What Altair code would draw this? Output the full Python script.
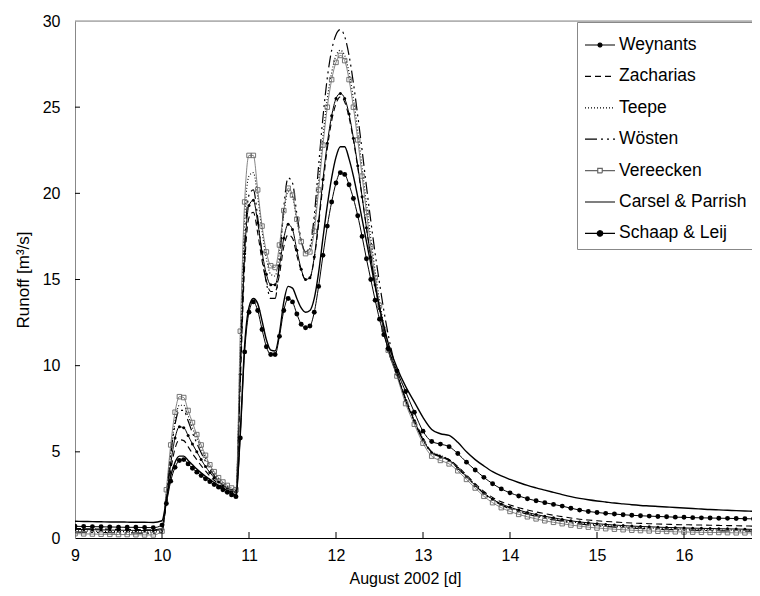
import altair as alt
import pandas as pd

# ---- data ----
T = [9.0, 9.1, 9.2, 9.3, 9.4, 9.5, 9.6, 9.7, 9.8, 9.9,
     10.0, 10.05, 10.1, 10.15, 10.2, 10.25, 10.3, 10.35, 10.4, 10.45,
     10.5, 10.55, 10.6, 10.65, 10.7, 10.75, 10.8, 10.85, 10.9, 10.95,
     11.0, 11.05, 11.1, 11.15, 11.2, 11.25, 11.3, 11.35, 11.4, 11.45,
     11.5, 11.55, 11.6, 11.65, 11.7, 11.75, 11.8, 11.85, 11.9, 11.95,
     12.0, 12.05, 12.1, 12.15, 12.2, 12.25, 12.3, 12.35, 12.4, 12.45, 12.5, 12.55, 12.6,
     12.7, 12.8, 12.9, 13.0, 13.1, 13.2, 13.3, 13.4, 13.5,
     13.6, 13.7, 13.8, 13.9, 14.0, 14.1, 14.2, 14.3, 14.4, 14.5, 14.6, 14.7,
     14.8, 14.9, 15.0, 15.1, 15.2, 15.3, 15.4, 15.5, 15.6, 15.7, 15.8, 15.9,
     16.0, 16.1, 16.2, 16.3, 16.4, 16.5, 16.6, 16.7, 16.8, 16.9]

weynants = [0.5, 0.49, 0.48, 0.47, 0.46, 0.45, 0.45, 0.44, 0.43, 0.43,
            0.5, 2.2, 4.3, 5.8, 6.45, 6.4, 5.95, 5.45, 5.0, 4.55, 4.15, 3.8, 3.5, 3.25, 3.05, 2.88, 2.75, 2.65, 9.5, 16.5,
            19.3, 19.6, 18.3, 16.6, 15.3, 14.7, 14.7, 15.8, 17.4, 18.2, 17.9, 16.7, 15.6, 15.0, 15.1, 16.3, 18.4, 20.8, 22.9, 24.5,
            25.5, 25.8, 25.5, 24.6, 23.2, 21.6, 19.8, 18.0, 16.3, 14.7, 13.3, 12.0, 10.9,
            9.5, 8.0, 6.8, 5.7, 4.95, 4.7, 4.5, 4.05, 3.55,
            3.05, 2.6, 2.25, 1.98, 1.78, 1.62, 1.48, 1.36, 1.26, 1.17, 1.08, 1.0, 0.93, 0.88, 0.83, 0.79, 0.75,
            0.72, 0.69, 0.67, 0.65, 0.63, 0.61, 0.6, 0.58, 0.57, 0.56, 0.55, 0.54, 0.53, 0.52, 0.51, 0.5, 0.5]

zacharias = [0.55, 0.54, 0.53, 0.52, 0.51, 0.5, 0.5, 0.49, 0.48, 0.48,
             0.55, 2.0, 3.9, 5.2, 5.7, 5.65, 5.3, 4.9, 4.55, 4.2, 3.9, 3.6, 3.35, 3.13, 2.95, 2.8, 2.67, 2.58, 9.0, 15.8,
             18.6, 18.9, 17.7, 16.1, 14.9, 14.3, 14.3, 15.3, 16.9, 17.6, 17.4, 16.4, 15.5, 15.0, 15.1, 16.2, 18.2, 20.5, 22.6, 24.2,
             25.2, 25.6, 25.3, 24.4, 23.1, 21.5, 19.8, 18.0, 16.3, 14.7, 13.3, 12.0, 10.9,
             9.5, 8.1, 6.9, 5.8, 5.0, 4.75, 4.55, 4.15, 3.65,
             3.15, 2.7, 2.35, 2.1, 1.92, 1.76, 1.63, 1.51, 1.41, 1.32, 1.24, 1.16, 1.09, 1.04, 1.0, 0.96, 0.93,
             0.9, 0.87, 0.85, 0.83, 0.81, 0.8, 0.78, 0.77, 0.76, 0.75, 0.74, 0.73, 0.72, 0.71, 0.7, 0.69, 0.68]

teepe = [0.42, 0.41, 0.4, 0.39, 0.38, 0.37, 0.37, 0.36, 0.35, 0.35,
         0.4, 2.6, 5.0, 6.8, 7.7, 7.7, 7.1, 6.4, 5.8, 5.2, 4.65, 4.15, 3.75, 3.42, 3.18, 2.98, 2.83, 2.75, 11.0, 18.5,
         21.0, 21.2, 19.8, 17.8, 16.2, 15.3, 15.2, 16.6, 18.8, 20.1, 19.8, 18.4, 17.2, 16.6, 16.8, 18.2, 20.7, 23.3, 25.5, 27.0,
         28.0, 28.3, 28.0, 27.0, 25.5, 23.6, 21.5, 19.4, 17.4, 15.5, 13.8, 12.3, 11.0,
         9.6, 8.1, 6.8, 5.75, 5.0, 4.8, 4.55, 4.1, 3.6,
         3.1, 2.62, 2.25, 1.96, 1.74, 1.57, 1.43, 1.31, 1.2, 1.11, 1.02, 0.94, 0.87, 0.81, 0.76, 0.72, 0.68,
         0.65, 0.62, 0.6, 0.58, 0.56, 0.54, 0.53, 0.51, 0.5, 0.49, 0.48, 0.47, 0.46, 0.45, 0.45, 0.44, 0.44]

woesten = [0.35, 0.34, 0.33, 0.32, 0.31, 0.3, 0.3, 0.29, 0.28, 0.28,
           0.35, 2.4, 4.8, 6.6, 7.4, 7.4, 6.8, 6.1, 5.5, 4.95, 4.45, 4.0, 3.62, 3.32, 3.08, 2.9, 2.75, 2.68, 10.0, 17.0,
           19.9, 20.2, 18.6, 16.4, 14.8, 13.9, 13.9, 16.0, 19.2, 20.9, 20.6, 18.8, 17.3, 16.6, 16.9, 18.7, 21.6, 24.4, 26.7, 28.3,
           29.2, 29.5, 29.1, 28.0, 26.4, 24.5, 22.5, 20.4, 18.4, 16.5, 14.8, 13.2, 11.8,
           9.6, 8.0, 6.75, 5.7, 4.95, 4.75, 4.5, 4.05, 3.55,
           3.05, 2.57, 2.2, 1.91, 1.69, 1.52, 1.38, 1.26, 1.15, 1.06, 0.97, 0.89, 0.82, 0.76, 0.71, 0.67, 0.63,
           0.6, 0.57, 0.55, 0.53, 0.51, 0.49, 0.48, 0.46, 0.45, 0.44, 0.43, 0.42, 0.41, 0.41, 0.4, 0.4, 0.39]

vereecken = [0.25, 0.24, 0.23, 0.22, 0.21, 0.2, 0.2, 0.19, 0.18, 0.18,
             0.4, 2.8, 5.4, 7.3, 8.2, 8.15, 7.4, 6.7, 6.0, 5.4, 4.8, 4.25, 3.85, 3.5, 3.25, 3.05, 2.9, 2.8, 12.0, 19.5,
             22.2, 22.2, 20.2, 18.1, 16.6, 15.8, 15.7, 17.0, 19.0, 20.3, 19.9, 18.5, 17.2, 16.5, 16.6, 17.8, 20.2, 22.8, 25.0, 26.6,
             27.6, 28.0, 27.7, 26.6, 25.0, 23.1, 21.0, 18.9, 16.9, 15.1, 13.5, 12.1, 10.9,
             9.4, 7.8, 6.6, 5.5, 4.75, 4.5, 4.3, 3.9, 3.4,
             2.9, 2.42, 2.05, 1.76, 1.54, 1.37, 1.23, 1.11, 1.0, 0.91, 0.83, 0.75, 0.69, 0.63, 0.58, 0.54, 0.51,
             0.48, 0.45, 0.43, 0.41, 0.39, 0.38, 0.36, 0.35, 0.34, 0.33, 0.32, 0.32, 0.31, 0.3, 0.3, 0.29, 0.29]

carsel = [0.97, 0.96, 0.95, 0.94, 0.93, 0.93, 0.92, 0.91, 0.91, 0.9,
          1.0, 2.2, 3.6, 4.4, 4.75, 4.75, 4.5, 4.25, 4.0, 3.78, 3.58, 3.4, 3.22, 3.05, 2.9, 2.75, 2.6, 2.5, 6.2, 11.2,
          13.4, 13.9, 13.6, 12.6, 11.5, 10.9, 10.85, 11.9, 13.7, 14.6, 14.5, 13.9, 13.35, 13.1, 13.2, 13.9, 15.4, 17.4, 19.3, 20.9,
          22.1, 22.7, 22.7, 22.0, 21.0, 19.8, 18.5, 17.2, 15.9, 14.6, 13.4, 12.3, 11.3,
          9.9, 8.8, 7.9, 7.0, 6.3, 6.05, 5.95, 5.55, 5.0,
          4.55, 4.18, 3.85, 3.6, 3.4, 3.22, 3.05, 2.91, 2.78, 2.65, 2.52, 2.4, 2.3, 2.22, 2.15, 2.09, 2.03,
          1.98, 1.93, 1.89, 1.86, 1.83, 1.8, 1.77, 1.74, 1.71, 1.68, 1.65, 1.63, 1.61, 1.59, 1.57, 1.55, 1.53]

schaap = [0.68, 0.67, 0.66, 0.65, 0.64, 0.63, 0.62, 0.62, 0.61, 0.6,
          0.75, 2.0, 3.3, 4.1, 4.5, 4.55, 4.3, 4.05, 3.82, 3.62, 3.44, 3.27, 3.1, 2.95, 2.8, 2.65, 2.5, 2.4, 5.8, 10.8,
          13.1, 13.7, 13.2, 12.1, 11.1, 10.65, 10.65, 11.7, 13.2, 13.9, 13.7, 13.0, 12.4, 12.2, 12.3, 13.1, 14.6, 16.4, 18.1, 19.5,
          20.6, 21.2, 21.1, 20.5, 19.7, 18.7, 17.5, 16.2, 15.0, 13.8, 12.7, 11.8, 11.0,
          9.7, 8.5, 7.3, 6.2, 5.6, 5.45, 5.3, 4.9, 4.4,
          3.95, 3.52, 3.15, 2.85, 2.62, 2.44, 2.28, 2.16, 2.05, 1.95, 1.85, 1.73, 1.62, 1.54, 1.48, 1.43, 1.39,
          1.35, 1.32, 1.29, 1.27, 1.25, 1.23, 1.21, 1.2, 1.18, 1.17, 1.16, 1.15, 1.14, 1.13, 1.12, 1.11, 1.1]

names = ["Weynants", "Zacharias", "Teepe", "Wösten", "Vereecken",
         "Carsel & Parrish", "Schaap & Leij"]
series = [weynants, zacharias, teepe, woesten, vereecken, carsel, schaap]

x_ticks = [9, 10, 11, 12, 13, 14, 15, 16]
y_ticks = [0, 5, 10, 15, 20, 25, 30]
x_inner = [10, 11, 12, 13, 14, 15, 16]
y_inner = [5, 10, 15, 20, 25]

# ---- tables ----
rows = []
for name, vals in zip(names, series):
    for t, v in zip(T, vals):
        rows.append({"t": t, "v": v, "series": name})
df = pd.DataFrame(rows)

FONT = "Liberation Sans"
PLOT_W = 677
PLOT_H = 517
X_MAX = 9 + PLOT_W / 87.0   # keeps 87 px per day, as in the reference

X = alt.X("t:Q",
          scale=alt.Scale(domain=[9, X_MAX], nice=False, zero=False),
          axis=alt.Axis(values=x_ticks, title="August 2002 [d]", ticks=False,
                        grid=False, labelPadding=9, labelFontSize=16,
                        labelFont=FONT, labelColor="black", titleFont=FONT,
                        titleFontSize=16, titleFontWeight="normal", titleColor="black",
                        titlePadding=7, titleX=330, domainColor="black", labelFlush=False))
Y = alt.Y("v:Q",
          scale=alt.Scale(domain=[0, 30], nice=False),
          axis=alt.Axis(values=y_ticks, title="Runoff [m³/s]", ticks=False,
                        grid=False, labelPadding=15, labelFontSize=16,
                        labelFont=FONT, labelColor="black", titleFont=FONT,
                        titleFontSize=17, titleFontWeight="normal", titleColor="black",
                        titlePadding=10, domainColor="#888888", labelFlush=False))

styles = {
    "Weynants": dict(dash=None, width=1.0, color="black", marker="circle", msize=9, filled=True),
    "Zacharias": dict(dash=[6, 4], width=1.1, color="black", marker=None),
    "Teepe": dict(dash=[1, 2], width=1.1, color="black", marker=None),
    "Wösten": dict(dash=[12, 4, 2, 4, 2, 4], width=1.2, color="black", marker=None),
    "Vereecken": dict(dash=None, width=0.8, color="#666666", marker="square", msize=20, filled=False),
    "Carsel & Parrish": dict(dash=None, width=1.4, color="black", marker=None),
    "Schaap & Leij": dict(dash=None, width=1.0, color="black", marker="circle", msize=24, filled=True),
}

layers = []
for name in names:
    st = styles[name]
    base = alt.Chart(df).transform_filter(alt.datum.series == name)
    kw = dict(interpolate="monotone", color=st["color"], strokeWidth=st["width"], clip=True)
    if st["dash"]:
        kw["strokeDash"] = st["dash"]
    layers.append(base.mark_line(**kw).encode(x=X, y=Y))
    if st["marker"]:
        layers.append(base.mark_point(shape=st["marker"], size=st["msize"], filled=st["filled"],
                                      color=st["color"], strokeWidth=0.9, opacity=1, clip=True)
                      .encode(x=X, y=Y))

# inward tick marks and the top frame line
xt_df = pd.DataFrame({"t": x_inner})
yt_df = pd.DataFrame({"v": y_inner})
layers.append(alt.Chart(xt_df).mark_rule(color="black", strokeWidth=1)
              .encode(x=X, y=alt.value(PLOT_H), y2=alt.value(PLOT_H - 6)))
layers.append(alt.Chart(yt_df).mark_rule(color="black", strokeWidth=1)
              .encode(y=Y, x=alt.value(0), x2=alt.value(5)))
layers.append(alt.Chart(xt_df.head(1)).mark_rule(color="#888888", strokeWidth=1)
              .encode(x=alt.value(0), x2=alt.value(PLOT_W), y=alt.value(0)))

# legend (native), symbols drawn as line+marker paths
paths = [
    "M-1,0H1M-0.13,0A0.13,0.13 0 1,0 0.13,0A0.13,0.13 0 1,0 -0.13,0Z",
    "M-1,0H1",
    "M-1,0H1",
    "M-1,0H1",
    "M-1,0H-0.15M0.15,0H1M-0.15,-0.15H0.15V0.15H-0.15Z",
    "M-1,0H1",
    "M-1,0H1M-0.18,0A0.18,0.18 0 1,0 0.18,0A0.18,0.18 0 1,0 -0.18,0Z",
]
fills = ["black", "transparent", "transparent", "transparent", "white", "transparent", "black"]
strokes = ["black", "black", "black", "black", "#666666", "black", "black"]
dashes = [[1, 0], [6, 4], [1, 2], [12, 4, 2, 4, 2, 4], [1, 0], [1, 0], [1, 0]]

leg = alt.Legend(title=None, orient="none", legendX=502, legendY=1, padding=7,
                 strokeColor="#888888", fillColor="white", labelFont=FONT,
                 labelFontSize=17.5, labelColor="black", symbolSize=900,
                 symbolStrokeWidth=1.2, labelOffset=3, rowPadding=6.4, cornerRadius=0)

legend_layer = (alt.Chart(df).transform_filter("datum.v < -1000")
                .mark_point(size=900, opacity=1, filled=True)
                .encode(x=X, y=Y,
                        shape=alt.Shape("series:N", scale=alt.Scale(domain=names, range=paths), legend=leg),
                        fill=alt.Fill("series:N", scale=alt.Scale(domain=names, range=fills), legend=leg),
                        stroke=alt.Stroke("series:N", scale=alt.Scale(domain=names, range=strokes), legend=leg),
                        strokeDash=alt.StrokeDash("series:N", scale=alt.Scale(domain=names, range=dashes), legend=leg)))
layers.append(legend_layer)

chart = (alt.layer(*layers)
         .properties(width=PLOT_W, height=PLOT_H,
                     autosize=alt.AutoSizeParams(type="none"),
                     padding={"left": 67, "top": 13, "right": 0, "bottom": 50})
         .configure_view(stroke=None)
         .configure(font=FONT))

chart.save("out.html", embed_options={"renderer": "svg", "actions": False})
